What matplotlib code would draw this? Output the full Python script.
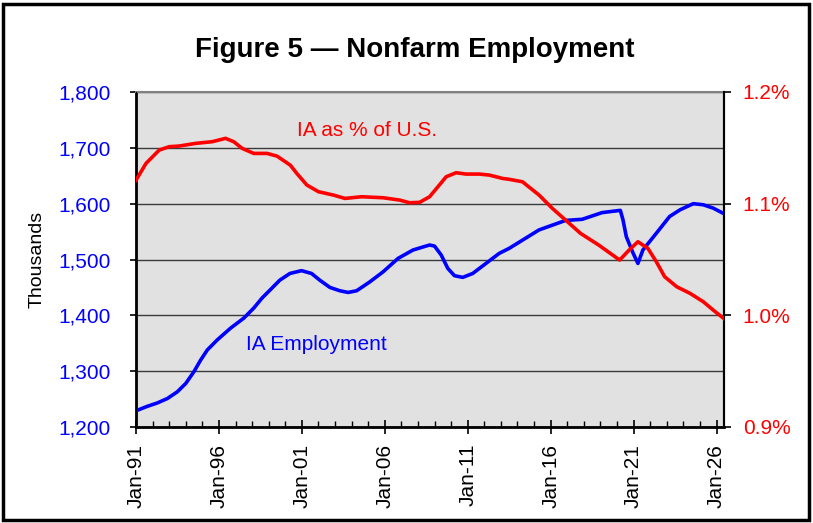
import numpy as np
import matplotlib
matplotlib.use("Agg")
import matplotlib.pyplot as plt
from matplotlib.patches import Rectangle
from matplotlib.ticker import FuncFormatter, MultipleLocator

plt.rcParams['font.family'] = ['Liberation Sans', 'DejaVu Sans']

# IA nonfarm employment, thousands
emp_year = [1991.0, 1991.68, 1992.28, 1992.89, 1993.49, 1994.0, 1994.49, 1994.9, 1995.3,
            1995.9, 1996.7, 1997.5, 1998.1, 1998.6, 1999.07, 1999.67, 2000.28, 2000.98,
            2001.58, 2002.08, 2002.69, 2003.29, 2003.79, 2004.3, 2005.1, 2005.9, 2006.8,
            2007.7, 2008.7, 2009.0, 2009.4, 2009.8, 2010.2, 2010.7, 2011.3, 2012.1,
            2012.9, 2013.5, 2015.3, 2016.9, 2017.9, 2019.1, 2020.2, 2020.36, 2020.56,
            2020.96, 2021.26, 2021.56, 2022.37, 2023.17, 2023.8, 2024.6, 2025.2,
            2025.8, 2026.45]
emp_val = [1229, 1237, 1243, 1251, 1263, 1278, 1299, 1320, 1338,
           1356, 1377, 1395, 1413, 1431, 1445, 1463, 1475, 1480,
           1475, 1463, 1450, 1444, 1441, 1444, 1460, 1478, 1502,
           1517, 1526, 1524, 1508, 1484, 1471, 1468, 1475, 1493,
           1511, 1520, 1553, 1570, 1572, 1584, 1588, 1571, 1541,
           1512, 1493, 1517, 1547, 1577, 1589, 1600, 1598,
           1592, 1582]

# IA as percent of U.S. employment
pct_year = [1991.0, 1991.6, 1992.4, 1993.0, 1993.6, 1994.6, 1995.6, 1996.4, 1996.9,
            1997.4, 1998.1, 1998.9, 1999.5, 2000.3, 2000.7, 2001.3, 2002.0, 2002.9,
            2003.6, 2004.6, 2005.9, 2006.9, 2007.5, 2008.1, 2008.7, 2009.2, 2009.7,
            2010.3, 2010.9, 2011.7, 2012.3, 2013.1, 2013.5, 2014.3, 2015.3, 2016.1,
            2016.9, 2017.8, 2018.9, 2020.16, 2020.7, 2021.26, 2021.86, 2022.37,
            2022.87, 2023.6, 2024.4, 2025.2, 2025.8, 2026.45]
pct_val = [1.121, 1.136, 1.148, 1.151, 1.1516, 1.154, 1.1555, 1.1585, 1.1554,
           1.1495, 1.145, 1.145, 1.1426, 1.1345, 1.127, 1.1167, 1.1107, 1.1077,
           1.1047, 1.1062, 1.1053, 1.1032, 1.1008, 1.1012, 1.1062, 1.1151, 1.1241,
           1.1277, 1.1265, 1.1265, 1.1256, 1.1226, 1.1218, 1.1196, 1.1077, 1.0958,
           1.0853, 1.0734, 1.0629, 1.0495, 1.058, 1.0659, 1.060, 1.048,
           1.0346, 1.0256, 1.0197, 1.0122, 1.0047, 0.997]

tick_years = [1991, 1996, 2001, 2006, 2011, 2016, 2021, 2026]
tick_labels = ['Jan-91', 'Jan-96', 'Jan-01', 'Jan-06', 'Jan-11', 'Jan-16', 'Jan-21', 'Jan-26']

fig = plt.figure(figsize=(8.13, 5.23), dpi=100)
ax = fig.add_axes([136/813, 1-427/523, (724-136)/813, (427-92)/523])
ax.set_facecolor('#e1e1e1')

ax.plot(emp_year, emp_val, color='#0000ff', lw=2.6, solid_joinstyle='round', zorder=3)
ax.set_xlim(1991, 2026.45)
ax.set_ylim(1200, 1800)
ax.set_yticks(np.arange(1200, 1801, 100))
ax.yaxis.set_major_formatter(FuncFormatter(lambda v, p: f'{int(v):,}'))
ax.grid(axis='y', color='#3a3a3a', lw=1)
ax.set_axisbelow(True)

ax.set_xticks(tick_years)
ax.set_xticklabels(tick_labels, rotation=90, fontsize=15)
ax.xaxis.set_minor_locator(MultipleLocator(1))
ax.tick_params(axis='x', which='major', direction='inout', length=10, width=1.2, pad=7)
ax.tick_params(axis='x', which='minor', direction='in', length=4, width=1)
ax.tick_params(axis='y', direction='out', length=4.5, width=1.2, labelsize=15,
               labelcolor='#0000ff', pad=14)
ax.set_ylabel('Thousands', fontsize=14)
ax.yaxis.set_label_coords((46 - 136) / 588, 0.5)

for s in ['left', 'bottom']:
    ax.spines[s].set_linewidth(2)
ax.spines['top'].set_color('#808080')
ax.spines['top'].set_linewidth(1.5)
ax.spines['right'].set_linewidth(1.5)

ax2 = ax.twinx()
ax2.plot(pct_year, pct_val, color='#ff0000', lw=2.6, solid_joinstyle='round', zorder=3)
ax2.set_ylim(0.9, 1.2)
ax2.set_yticks([0.9, 1.0, 1.1, 1.2])
ax2.yaxis.set_major_formatter(FuncFormatter(lambda v, p: f'{v:.1f}%'))
ax2.tick_params(axis='y', direction='out', length=5, width=1.2, labelsize=15,
                labelcolor='#ff0000', pad=8.5)
ax2.spines['right'].set_linewidth(1.5)
ax2.spines['top'].set_visible(False)

ax.text(367 / 813, 1 - 130 / 523, 'IA as % of U.S.', transform=fig.transFigure,
        color='#ff0000', fontsize=15, ha='center', va='center')
ax.text(316 / 813, 1 - 345 / 523, 'IA Employment', transform=fig.transFigure,
        color='#0000ff', fontsize=15, ha='center', va='center')

fig.text(415 / 813, 1 - 50 / 523, 'Figure 5 \u2014 Nonfarm Employment',
         fontsize=20, fontweight='bold', ha='center', va='center')

fig.patches.append(Rectangle((3 / 813, 3 / 523), 806 / 813, 516 / 523,
                             transform=fig.transFigure, fill=False,
                             edgecolor='black', lw=2.5))

plt.savefig('out.png', dpi=100)
plt.close()
